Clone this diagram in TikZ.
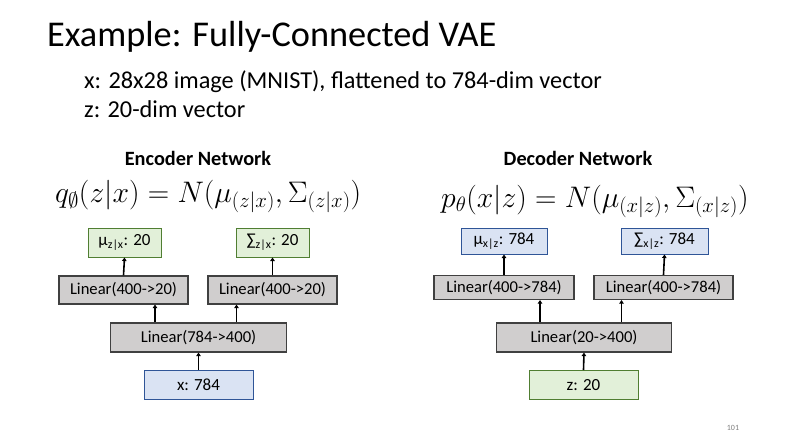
\documentclass[tikz,border=0pt]{standalone}
\usepackage{fix-cm}
\usepackage{fontspec}
\setmainfont{Carlito}
\usetikzlibrary{arrows.meta}
\definecolor{grayfill}{HTML}{D0CECE}
\definecolor{grayline}{HTML}{404040}
\definecolor{greenfill}{HTML}{E2F0D9}
\definecolor{greenline}{HTML}{507E32}
\definecolor{bluefill}{HTML}{DAE3F3}
\definecolor{blueline}{HTML}{2F5597}
\begin{document}
\begin{tikzpicture}[x=1pt,y=-1pt,
  layer/.style={draw=grayline,fill=grayfill,line width=1.2pt,inner sep=0pt,
    font=\fontsize{16.6}{18}\selectfont},
  gbox/.style={draw=greenline,fill=greenfill,line width=1pt,inner sep=0pt,
    font=\fontsize{17}{19}\selectfont},
  bbox/.style={draw=blueline,fill=bluefill,line width=1pt,inner sep=0pt,
    font=\fontsize{17}{19}\selectfont},
  arr/.style={line width=1.6pt,-{Triangle[width=4.5pt,length=3.5pt]}},
  heading/.style={font=\fontsize{20.3}{22}\selectfont\bfseries,anchor=base},
  formula/.style={font=\fontsize{29.7}{33}\selectfont,anchor=base west,inner sep=0pt}]
\useasboundingbox[fill=white] (0,0) rectangle (788,447);

% title and description
\node[anchor=base west,inner sep=0pt,font=\fontsize{36.3}{40}\selectfont] (title) at (47,46) {Example: Fully-Connected VAE};
\node[anchor=base west,inner sep=0pt,font=\fontsize{24.3}{27}\selectfont] (line1) at (84,88) {x: 28x28 image (MNIST), flattened to 784-dim vector};
\node[anchor=base west,inner sep=0pt,font=\fontsize{24.3}{27}\selectfont] (line2) at (84,117) {z: 20-dim vector};

% headings and distributions
\node[heading] (enchead) at (198,165) {Encoder Network};
\node[heading] (dechead) at (578,165) {Decoder Network};
\node[formula] (qform) at (55,202) {$q_{\emptyset}(z|x) = N\bigl(\mu_{(z|x)},\Sigma_{(z|x)}\bigr)$};
\node[formula] (pform) at (441,207) {$p_{\theta}(x|z) = N\bigl(\mu_{(x|z)},\Sigma_{(x|z)}\bigr)$};

% encoder
\node[gbox,minimum width=73pt,minimum height=29pt] (emu) at (124.5,242.5) {μ\textsubscript{z|x}: 20};
\node[gbox,minimum width=73pt,minimum height=29pt] (esig) at (272.5,242.5) {∑\textsubscript{z|x}: 20};
\node[layer,minimum width=129pt,minimum height=28pt] (elinL) at (123.5,290) {Linear(400->20)};
\node[layer,minimum width=129pt,minimum height=28pt] (elinR) at (272.5,290) {Linear(400->20)};
\node[layer,minimum width=176pt,minimum height=29pt] (elin) at (198.5,337.5) {Linear(784->400)};
\node[bbox,minimum width=109pt,minimum height=29pt] (ein) at (198.5,384.5) {x: 784};

\draw[arr] (elinL.north) -- (emu.south);
\draw[arr] (elinR.north) -- (esig.south);
\draw[arr] ([xshift=-43.5pt]elin.north) -- ([xshift=-43.5pt]elin.north |- elinL.south);
\draw[arr] ([xshift=38pt]elin.north) -- ([xshift=38pt]elin.north |- elinR.south);
\draw[arr] (ein.north) -- (elin.south);

% decoder
\node[bbox,minimum width=86pt,minimum height=26pt] (dmu) at (504,241) {μ\textsubscript{x|z}: 784};
\node[bbox,minimum width=87pt,minimum height=26pt] (dsig) at (664.5,241) {∑\textsubscript{x|z}: 784};
\node[layer,minimum width=140pt,minimum height=24pt] (dlinL) at (504,287.5) {Linear(400->784)};
\node[layer,minimum width=139pt,minimum height=24pt] (dlinR) at (663.5,287.5) {Linear(400->784)};
\node[layer,minimum width=175pt,minimum height=29pt] (dlin) at (584,337.5) {Linear(20->400)};
\node[gbox,minimum width=109pt,minimum height=29pt] (din) at (583.5,385) {z: 20};

\draw[arr] (dlinL.north) -- (dmu.south);
\draw[arr] (dlinR.north) -- (dsig.south);
\draw[arr] ([xshift=-44pt]dlin.north) -- ([xshift=-44pt]dlin.north |- dlinL.south);
\draw[arr] ([xshift=37.5pt]dlin.north) -- ([xshift=37.5pt]dlin.north |- dlinR.south);
\draw[arr] (din.north) -- (dlin.south);

% slide number
\node[anchor=base,inner sep=0pt,text=gray,font=\fontsize{8}{9}\selectfont] (pagenum) at (733,430) {101};
\end{tikzpicture}
\end{document}
